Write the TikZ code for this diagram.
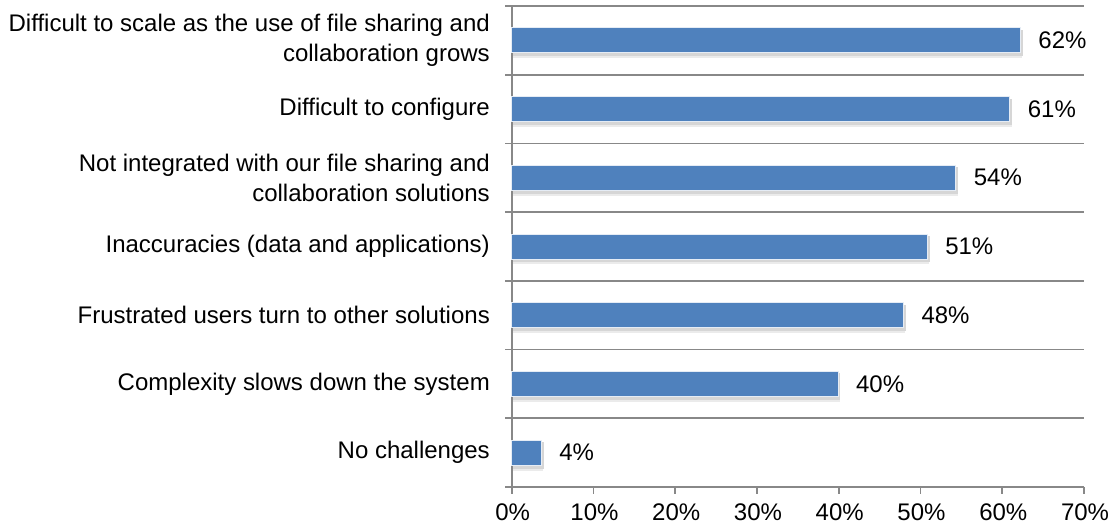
\documentclass[tikz,border=0pt]{standalone}
\usepackage{fontspec}
\setmainfont{Liberation Sans}
\definecolor{barblue}{HTML}{4F81BD}
\definecolor{gridgray}{HTML}{888888}
\begin{document}
\begin{tikzpicture}[x=1pt,y=-1pt,
  txt/.style={font=\fontsize{24}{29.5}\selectfont,inner sep=0pt},
  catlabel/.style={txt,anchor=east,align=right},
  vallabel/.style={txt,anchor=west},
  ticklabel/.style={txt,anchor=north},
  bar/.style={fill=barblue,draw=white!85!barblue,line width=0.8pt},
  barshadow/.style={fill=black,opacity=0.16},
  gridline/.style={draw=gridgray,line width=1.7pt}]
\useasboundingbox (0,0) rectangle (1114,531);
% geometry: axis origin and scale
\def\xo{511.7}
\def\unit{8.176}   % pt per percent
\def\top{6}
\def\cat{68.7}
% horizontal grid lines with category ticks
\foreach \k in {0,...,6}{
  \draw[gridline] (505,{\top+\cat*\k}) -- (1084,{\top+\cat*\k});
}
% axes
\draw[gridline] (\xo,\top) -- (\xo,493);
\draw[gridline] (505,{\top+\cat*7}) -- (1084,{\top+\cat*7});
% value axis ticks and labels
\foreach \p in {0,10,...,70}{
  \draw[gridline] ({\xo+\unit*\p},{\top+\cat*7}) -- ({\xo+\unit*\p},493.5);
  \node[ticklabel] (t\p) at ({\xo+\unit*\p+1},504) {\p\%};
}
% bars with a soft shadow underneath
\foreach \i/\v/\lab/\name in {
  0/62.2/62\%/b0, 1/60.9/61\%/b1, 2/54.3/54\%/b2, 3/50.8/51\%/b3,
  4/47.9/48\%/b4, 5/39.9/40\%/b5, 6/3.6/4\%/b6}{
  \pgfmathsetmacro\yc{\top+\cat*(\i+0.5)}
  \fill[barshadow] ({\xo+1},{\yc-10.5}) rectangle ({\xo+\unit*\v+2.5},{\yc+16});
  \fill[black,opacity=0.08] ({\xo+1},{\yc+16}) rectangle ({\xo+\unit*\v+2},{\yc+18});
  \draw[bar] (\xo,{\yc-12.5}) rectangle ({\xo+\unit*\v},{\yc+12.5});
  \node[vallabel] (\name) at ({\xo+\unit*\v+18},\yc) {\lab};
}
% category labels
\node[catlabel] (c0) at (490,{\top+\cat*0.5}) {Difficult to scale as the use of file sharing and\\collaboration grows};
\node[catlabel] (c1) at (490,{\top+\cat*1.5}) {Difficult to configure};
\node[catlabel] (c2) at (490,{\top+\cat*2.5}) {Not integrated with our file sharing and\\collaboration solutions};
\node[catlabel] (c3) at (490,{\top+\cat*3.5}) {Inaccuracies (data and applications)};
\node[catlabel] (c4) at (490,{\top+\cat*4.5}) {Frustrated users turn to other solutions};
\node[catlabel] (c5) at (490,{\top+\cat*5.5}) {Complexity slows down the system};
\node[catlabel] (c6) at (490,{\top+\cat*6.5}) {No challenges};
\end{tikzpicture}
\end{document}
